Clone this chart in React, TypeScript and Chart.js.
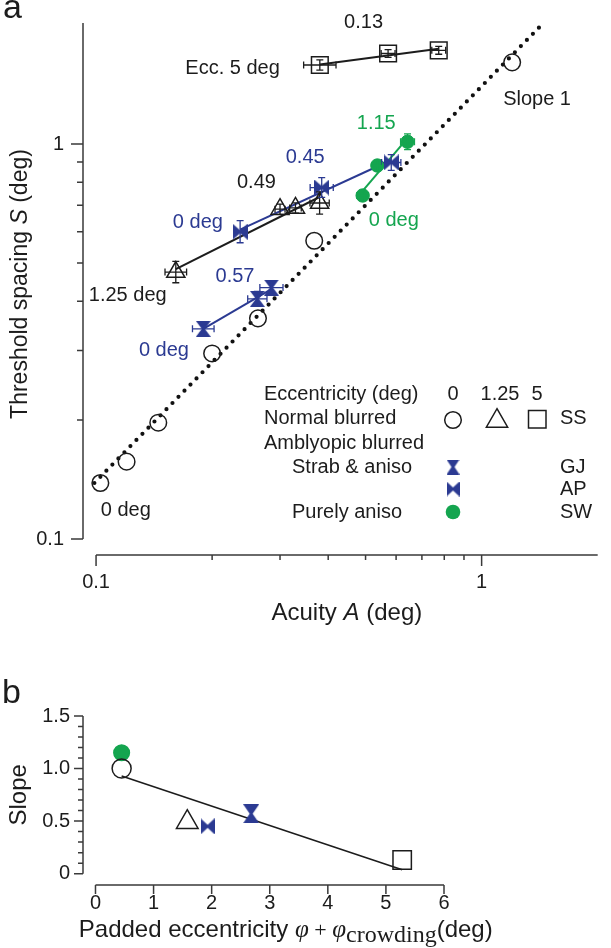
import React, { useEffect, useRef } from 'react';
import { Chart, registerables } from 'chart.js';
Chart.register(...registerables);

const FONT = "Arial, 'Liberation Sans', Helvetica, sans-serif";
const SERIF = "'Liberation Serif', 'Times New Roman', 'DejaVu Serif', serif";
const BLUE = '#2b3a92';
const GREEN = '#14a54f';
const BLACK = '#1c1c1c';
const AXIS = '#3a3a3a';

// ---------------- Panel a data (acuity A, threshold spacing S, deg) ----------------
const ecc0Acuity = [0.1026, 0.12, 0.145, 0.2, 0.263, 0.368, 1.2];
const ecc0Spacing = [0.1386, 0.157, 0.197, 0.295, 0.362, 0.569, 1.61];

const ecc125Acuity = [0.161, 0.3, 0.329, 0.38];
const ecc125Spacing = [0.474, 0.684, 0.689, 0.709];
const ecc125AcuityErr = [0.028, 0.013, 0.015, 0.025]; // log10 half-widths
const ecc125SpacingErr = [0.027, 0.013, 0.013, 0.028];

const ecc5Acuity = [0.3805, 0.572, 0.774];
const ecc5Spacing = [1.585, 1.695, 1.727];
const ecc5AcuityErr = [0.042, 0.018, 0.018];
const ecc5SpacingErr = [0.013, 0.01, 0.01];

const gjAcuity = [0.1897, 0.262, 0.285];
const gjSpacing = [0.3405, 0.4055, 0.433];
const gjAcuityErr = [0.028, 0.025, 0.03];
const gjSpacingErr = [0.01, 0.019, 0.013];

const apAcuity = [0.2364, 0.3848, 0.5829];
const apSpacing = [0.5998, 0.776, 0.898];
const apAcuityErr = [0.013, 0.03, 0.025];
const apSpacingErr = [0.028, 0.025, 0.02];

const swAcuity = [0.4914, 0.5365, 0.6424];
const swSpacing = [0.7408, 0.8823, 1.0135];
const swAcuityErr = [0.015, 0.013, 0.018];
const swSpacingErr = [0.013, 0.013, 0.02];

// fitted log-log slopes (also the printed labels)
const slopeEcc5 = 0.13;
const slopeEcc125 = 0.49;
const slopeGJ = 0.57;
const slopeAP = 0.45;
const slopeSW = 1.15;

// slope-1 reference line S = k * A
const slopeOneFactor = 1.4;
const slopeOneAcuityRange = [0.099, 1.43];

const acuityTicks = [0.1, 0.2, 0.3, 0.4, 0.5, 0.6, 0.7, 0.8, 0.9, 1];
const acuityTickLabels = ['0.1', '', '', '', '', '', '', '', '', '1'];
const spacingTicks = [0.1, 0.2, 0.3, 0.4, 0.5, 0.6, 0.7, 0.8, 0.9, 1];
const spacingTickLabels = ['0.1', '', '', '', '', '', '', '', '', '1'];

// ---------------- Panel b data ----------------
const slopeGroups = ['normal0', 'sw', 'normal125', 'ap', 'gj', 'normal5'];
const paddedEccentricity = [0.45, 0.45, 1.58, 1.93, 2.68, 5.28];
const slopeValues = [1.0, 1.15, 0.49, 0.45, 0.57, 0.13];

const eccTicks = [0, 1, 2, 3, 4, 5, 6];
const eccTickLabels = ['0', '1', '2', '3', '4', '5', '6'];
const slopeTicks = [0, 0.1, 0.2, 0.3, 0.4, 0.5, 0.6, 0.7, 0.8, 0.9, 1.0, 1.1, 1.2, 1.3, 1.4, 1.5];
const slopeTickLabels = ['0', '', '', '', '', '0.5', '', '', '', '', '1.0', '', '', '', '', '1.5'];

// ---------------- helpers ----------------
function makeHourglass(w: number, h: number, color: string) {
  const c = document.createElement('canvas');
  c.width = w; c.height = h;
  const g = c.getContext('2d')!;
  g.fillStyle = color;
  g.beginPath();
  g.moveTo(0, 0); g.lineTo(w, 0); g.lineTo(w / 2 + 1.5, h / 2); g.lineTo(w, h);
  g.lineTo(0, h); g.lineTo(w / 2 - 1.5, h / 2); g.closePath(); g.fill();
  return c;
}
function makeBowtie(w: number, h: number, color: string) {
  const c = document.createElement('canvas');
  c.width = w; c.height = h;
  const g = c.getContext('2d')!;
  g.fillStyle = color;
  g.beginPath();
  g.moveTo(0, 0); g.lineTo(w / 2, h / 2 - 1.5); g.lineTo(w, 0); g.lineTo(w, h);
  g.lineTo(w / 2, h / 2 + 1.5); g.lineTo(0, h); g.closePath(); g.fill();
  return c;
}

function pts(xs: number[], ys: number[]) {
  return xs.map((x, i) => ({ x, y: ys[i] }));
}

// line through the log-log centroid with the given slope, spanning the data range
function logFit(xs: number[], ys: number[], slope: number) {
  const lx = xs.map(Math.log10), ly = ys.map(Math.log10);
  const mx = lx.reduce((a, b) => a + b, 0) / lx.length;
  const my = ly.reduce((a, b) => a + b, 0) / ly.length;
  const x0 = Math.min(...xs), x1 = Math.max(...xs);
  const f = (x: number) => Math.pow(10, my + slope * (Math.log10(x) - mx));
  return [{ x: x0, y: f(x0) }, { x: x1, y: f(x1) }];
}

function linFit(xs: number[], ys: number[]) {
  const n = xs.length;
  const mx = xs.reduce((a, b) => a + b, 0) / n;
  const my = ys.reduce((a, b) => a + b, 0) / n;
  let sxy = 0, sxx = 0;
  xs.forEach((x, i) => { sxy += (x - mx) * (ys[i] - my); sxx += (x - mx) * (x - mx); });
  const b = sxy / sxx, a = my - b * mx;
  const x0 = Math.min(...xs), x1 = Math.max(...xs);
  return [{ x: x0, y: a + b * x0 }, { x: x1, y: a + b * x1 }];
}

function drawSegments(ctx: CanvasRenderingContext2D, segs: { text: string; font: string; dy?: number }[], x: number, y: number) {
  let total = 0;
  segs.forEach(s => { ctx.font = s.font; total += ctx.measureText(s.text).width; });
  let cx = x - total / 2;
  ctx.textAlign = 'left';
  segs.forEach(s => {
    ctx.font = s.font;
    ctx.fillText(s.text, cx, y + (s.dy || 0));
    cx += ctx.measureText(s.text).width;
  });
}

const offsetAxesPlugin = {
  id: 'offsetAxes',
  afterDraw(chart: any, _args: any, opts: any) {
    const { ctx, chartArea, scales } = chart;
    const x = scales.x, y = scales.y;
    ctx.save();
    ctx.strokeStyle = AXIS;
    ctx.lineWidth = 1.5;
    ctx.beginPath();
    const yx = chartArea.left;
    ctx.moveTo(yx, y.getPixelForValue(opts.yFrom));
    ctx.lineTo(yx, opts.yTo == null ? chartArea.top : y.getPixelForValue(opts.yTo));
    y.ticks.forEach((t: any) => {
      const p = y.getPixelForValue(t.value);
      ctx.moveTo(yx, p);
      ctx.lineTo(yx - (t.label ? opts.yMajor : opts.yMinor), p);
    });
    const xy = chartArea.bottom;
    ctx.moveTo(x.getPixelForValue(opts.xFrom), xy);
    ctx.lineTo(opts.xTo == null ? chartArea.right : x.getPixelForValue(opts.xTo), xy);
    x.ticks.forEach((t: any) => {
      const p = x.getPixelForValue(t.value);
      ctx.moveTo(p, xy);
      ctx.lineTo(p, xy + (t.label ? opts.xMajor : opts.xMinor));
    });
    ctx.stroke();
    ctx.restore();
  },
};

const errorBarPlugin = {
  id: 'errorBars',
  afterDatasetsDraw(chart: any) {
    const { ctx, scales } = chart;
    const x = scales.x, y = scales.y;
    ctx.save();
    chart.data.datasets.forEach((ds: any) => {
      if (!ds.errX) return;
      ctx.strokeStyle = ds.errColor;
      ctx.lineWidth = 1.3;
      ds.data.forEach((p: any, i: number) => {
        const px = x.getPixelForValue(p.x), py = y.getPixelForValue(p.y);
        const ex = ds.errX[i], ey = ds.errY[i];
        const xl = x.getPixelForValue(p.x / Math.pow(10, ex));
        const xr = x.getPixelForValue(p.x * Math.pow(10, ex));
        const yb = y.getPixelForValue(p.y / Math.pow(10, ey));
        const yt = y.getPixelForValue(p.y * Math.pow(10, ey));
        const c = 3.5;
        ctx.beginPath();
        ctx.moveTo(xl, py); ctx.lineTo(xr, py);
        ctx.moveTo(xl, py - c); ctx.lineTo(xl, py + c);
        ctx.moveTo(xr, py - c); ctx.lineTo(xr, py + c);
        ctx.moveTo(px, yb); ctx.lineTo(px, yt);
        ctx.moveTo(px - c, yb); ctx.lineTo(px + c, yb);
        ctx.moveTo(px - c, yt); ctx.lineTo(px + c, yt);
        ctx.stroke();
      });
    });
    ctx.restore();
  },
};

const annotationsA = [
  { text: '0.13', a: 0.494, s: 2.036, color: BLACK, align: 'center' },
  { text: 'Ecc. 5 deg', a: 0.2996, s: 1.557, color: BLACK, align: 'right' },
  { text: 'Slope 1', a: 1.137, s: 1.3, color: BLACK, align: 'left' },
  { text: '1.15', a: 0.533, s: 1.13, color: GREEN, align: 'center' },
  { text: '0.45', a: 0.3486, s: 0.922, color: BLUE, align: 'center' },
  { text: '0.49', a: 0.2606, s: 0.801, color: BLACK, align: 'center' },
  { text: '0 deg', a: 0.1837, s: 0.6347, color: BLUE, align: 'center' },
  { text: '0 deg', a: 0.592, s: 0.642, color: GREEN, align: 'center' },
  { text: '1.25 deg', a: 0.1208, s: 0.4147, color: BLACK, align: 'center' },
  { text: '0.57', a: 0.2293, s: 0.4614, color: BLUE, align: 'center' },
  { text: '0 deg', a: 0.15, s: 0.301, color: BLUE, align: 'center' },
  { text: '0 deg', a: 0.1194, s: 0.1184, color: BLACK, align: 'center' },
];

function triPath(ctx: CanvasRenderingContext2D, x: number, y: number, r: number) {
  ctx.beginPath();
  let rad = 0;
  ctx.moveTo(x + Math.sin(rad) * r, y - Math.cos(rad) * r);
  rad += (2 * Math.PI) / 3;
  ctx.lineTo(x + Math.sin(rad) * r, y - Math.cos(rad) * r);
  rad += (2 * Math.PI) / 3;
  ctx.lineTo(x + Math.sin(rad) * r, y - Math.cos(rad) * r);
  ctx.closePath();
}

function PanelA() {
  const ref = useRef<HTMLCanvasElement>(null);
  useEffect(() => {
    const hg = makeHourglass(15, 16, BLUE);
    const bt = makeBowtie(15, 16, BLUE);
    const lgHg = makeHourglass(13, 15, BLUE);
    const lgBt = makeBowtie(13, 15, BLUE);

    const textPlugin = {
      id: 'textA',
      afterDraw(chart: any) {
        const { ctx, scales } = chart;
        const x = scales.x, y = scales.y;
        ctx.save();
        ctx.textBaseline = 'middle';
        ctx.font = `20px ${FONT}`;
        annotationsA.forEach(a => {
          ctx.fillStyle = a.color;
          ctx.textAlign = a.align;
          ctx.fillText(a.text, x.getPixelForValue(a.a), y.getPixelForValue(a.s));
        });
        // legend
        ctx.fillStyle = BLACK;
        ctx.textAlign = 'left';
        ctx.fillText('Eccentricity (deg)', 264, 394);
        ctx.fillText('Normal blurred', 264, 418);
        ctx.fillText('Amblyopic blurred', 264, 443);
        ctx.fillText('Strab & aniso', 292, 467);
        ctx.fillText('Purely aniso', 292, 512);
        ctx.fillText('SS', 560, 418);
        ctx.fillText('GJ', 560, 467);
        ctx.fillText('AP', 560, 489);
        ctx.fillText('SW', 560, 512);
        ctx.textAlign = 'center';
        ctx.fillText('0', 453, 394);
        ctx.fillText('1.25', 500, 394);
        ctx.fillText('5', 537, 394);
        ctx.strokeStyle = BLACK;
        ctx.lineWidth = 1.5;
        ctx.beginPath(); ctx.arc(453, 420, 8.3, 0, Math.PI * 2); ctx.stroke();
        triPath(ctx, 497, 421, 12.3); ctx.stroke();
        ctx.strokeRect(528.5, 410.5, 17.5, 17.5);
        ctx.drawImage(lgHg, 453 - 6.5, 467 - 7.5);
        ctx.drawImage(lgBt, 453 - 6.5, 489 - 7.5);
        ctx.fillStyle = GREEN;
        ctx.beginPath(); ctx.arc(453, 512, 7.3, 0, Math.PI * 2); ctx.fill();

        // axis titles
        ctx.fillStyle = BLACK;
        ctx.textBaseline = 'middle';
        ctx.save();
        ctx.translate(21, (chart.chartArea.top + y.getPixelForValue(0.1)) / 2 + 3);
        ctx.rotate(-Math.PI / 2);
        drawSegments(ctx, [
          { text: 'Threshold spacing ', font: `23px ${FONT}` },
          { text: 'S', font: `italic 23px ${FONT}` },
          { text: ' (deg)', font: `23px ${FONT}` },
        ], 0, 0);
        ctx.restore();
        drawSegments(ctx, [
          { text: 'Acuity ', font: `24px ${FONT}` },
          { text: 'A', font: `italic 24px ${FONT}` },
          { text: ' (deg)', font: `24px ${FONT}` },
        ], (x.getPixelForValue(0.1) + chart.chartArea.right) / 2, 613);
        ctx.font = `34px ${FONT}`;
        ctx.textAlign = 'left';
        ctx.textBaseline = 'alphabetic';
        ctx.fillText('a', 3, 18);
        ctx.restore();
      },
    };

    const lineDs = (data: any, color: string, extra: any = {}) => ({
      data, showLine: true, borderColor: color, borderWidth: 2, pointRadius: 0, fill: false, order: 10, ...extra,
    });

    const chart = new Chart(ref.current!, {
      type: 'scatter',
      data: {
        datasets: [
          lineDs([
            { x: slopeOneAcuityRange[0], y: slopeOneFactor * slopeOneAcuityRange[0] },
            { x: slopeOneAcuityRange[1], y: slopeOneFactor * slopeOneAcuityRange[1] },
          ], '#111', { borderWidth: 4.2, borderDash: [0, 8.6], borderCapStyle: 'round', order: 20 }),
          lineDs(logFit(ecc5Acuity, ecc5Spacing, slopeEcc5), BLACK),
          lineDs(logFit(ecc125Acuity, ecc125Spacing, slopeEcc125), BLACK),
          lineDs(logFit(gjAcuity, gjSpacing, slopeGJ), BLUE),
          lineDs(logFit(apAcuity, apSpacing, slopeAP), BLUE),
          lineDs(logFit(swAcuity, swSpacing, slopeSW), GREEN),
          {
            data: pts(ecc0Acuity, ecc0Spacing), pointStyle: 'circle', pointRadius: 8.3,
            borderColor: BLACK, backgroundColor: 'rgba(0,0,0,0)', pointBorderWidth: 1.5, order: 0,
          },
          {
            data: pts(ecc125Acuity, ecc125Spacing), pointStyle: 'triangle', pointRadius: 10.5,
            borderColor: BLACK, backgroundColor: 'rgba(0,0,0,0)', pointBorderWidth: 1.5, order: 0,
            errX: ecc125AcuityErr, errY: ecc125SpacingErr, errColor: BLACK,
          },
          {
            data: pts(ecc5Acuity, ecc5Spacing), pointStyle: 'rect', pointRadius: 11.8,
            borderColor: BLACK, backgroundColor: 'rgba(0,0,0,0)', pointBorderWidth: 1.5, order: 0,
            errX: ecc5AcuityErr, errY: ecc5SpacingErr, errColor: BLACK,
          },
          {
            data: pts(gjAcuity, gjSpacing), pointStyle: hg, pointRadius: 8, order: 0,
            errX: gjAcuityErr, errY: gjSpacingErr, errColor: BLUE,
          },
          {
            data: pts(apAcuity, apSpacing), pointStyle: bt, pointRadius: 8, order: 0,
            errX: apAcuityErr, errY: apSpacingErr, errColor: BLUE,
          },
          {
            data: pts(swAcuity, swSpacing), pointStyle: 'circle', pointRadius: 6.7,
            borderColor: GREEN, backgroundColor: GREEN, pointBorderWidth: 1, order: 0,
            errX: swAcuityErr, errY: swSpacingErr, errColor: GREEN,
          },
        ] as any,
      },
      options: {
        responsive: false,
        animation: false,
        events: [],
        layout: { padding: { top: 23, right: 0, left: 0, bottom: 0 } },
        plugins: {
          legend: { display: false },
          tooltip: { enabled: false },
          offsetAxes: { yFrom: 0.1, yTo: null, yMajor: 12, yMinor: 6, xFrom: 0.1, xTo: null, xMajor: 11, xMinor: 5 },
        } as any,
        scales: {
          x: {
            type: 'logarithmic', min: 0.0925, max: 2.0, bounds: 'data',
            grid: { display: false, drawTicks: false }, border: { display: false },
            afterBuildTicks: (s: any) => { s.ticks = acuityTicks.map(v => ({ value: v })); },
            afterFit: (s: any) => { s.height = 85; s.paddingLeft = 0; s.paddingRight = 0; },
            ticks: {
              autoSkip: false, maxRotation: 0, padding: 15, color: BLACK,
              font: { family: FONT, size: 20 },
              callback: (_v: any, i: number) => acuityTickLabels[i],
            },
          },
          y: {
            type: 'logarithmic', min: 0.0911, max: 2.025, bounds: 'data',
            grid: { display: false, drawTicks: false }, border: { display: false },
            afterBuildTicks: (s: any) => { s.ticks = spacingTicks.map(v => ({ value: v })); },
            afterFit: (s: any) => { s.width = 83; s.paddingTop = 0; s.paddingBottom = 0; },
            ticks: {
              autoSkip: false, padding: 19, color: BLACK,
              font: { family: FONT, size: 20 },
              callback: (_v: any, i: number) => spacingTickLabels[i],
            },
          },
        } as any,
      },
      plugins: [offsetAxesPlugin, errorBarPlugin, textPlugin],
    });
    return () => chart.destroy();
  }, []);
  return <canvas ref={ref} width={611} height={640} style={{ position: 'absolute', left: 0, top: 0 }} />;
}

function PanelB() {
  const ref = useRef<HTMLCanvasElement>(null);
  useEffect(() => {
    const hg = makeHourglass(16, 19, BLUE);
    const bt = makeBowtie(14, 16, BLUE);
    const styleFor: Record<string, any> = {
      normal0: { pointStyle: 'circle', pointRadius: 9.5, borderColor: BLACK, backgroundColor: 'rgba(0,0,0,0)' },
      sw: { pointStyle: 'circle', pointRadius: 7.8, borderColor: GREEN, backgroundColor: GREEN },
      normal125: { pointStyle: 'triangle', pointRadius: 12.5, borderColor: BLACK, backgroundColor: 'rgba(0,0,0,0)' },
      ap: { pointStyle: bt, pointRadius: 8 },
      gj: { pointStyle: hg, pointRadius: 9 },
      normal5: { pointStyle: 'rect', pointRadius: 13, borderColor: BLACK, backgroundColor: 'rgba(0,0,0,0)' },
    };
    const pointSets = slopeGroups.map((g, i) => ({
      data: [{ x: paddedEccentricity[i], y: slopeValues[i] }],
      pointBorderWidth: 1.5,
      order: 0,
      ...styleFor[g],
    }));

    const textPlugin = {
      id: 'textB',
      afterDraw(chart: any) {
        const { ctx, scales } = chart;
        const x = scales.x, y = scales.y;
        ctx.save();
        ctx.fillStyle = BLACK;
        ctx.textBaseline = 'middle';
        ctx.save();
        ctx.translate(19, (y.getPixelForValue(0) + y.getPixelForValue(1.5)) / 2);
        ctx.rotate(-Math.PI / 2);
        drawSegments(ctx, [{ text: 'Slope', font: `24px ${FONT}` }], 0, 0);
        ctx.restore();
        ctx.textBaseline = 'alphabetic';
        drawSegments(ctx, [
          { text: 'Padded eccentricity ', font: `24px ${FONT}` },
          { text: '\u03C6', font: `italic 25px ${SERIF}` },
          { text: ' + ', font: `22px ${SERIF}` },
          { text: '\u03C6', font: `italic 25px ${SERIF}` },
          { text: 'crowding', font: `24px ${SERIF}`, dy: 5 },
          { text: '(deg)', font: `24px ${FONT}` },
        ], (x.getPixelForValue(0) + x.getPixelForValue(6)) / 2 + 16, 297);
        ctx.font = `34px ${FONT}`;
        ctx.textAlign = 'left';
        ctx.fillText('b', 2, 63);
        ctx.restore();
      },
    };

    const chart = new Chart(ref.current!, {
      type: 'scatter',
      data: {
        datasets: [
          ...pointSets,
          {
            data: linFit(paddedEccentricity, slopeValues), showLine: true, borderColor: BLACK,
            borderWidth: 1.6, pointRadius: 0, order: 10,
          },
        ] as any,
      },
      options: {
        responsive: false,
        animation: false,
        events: [],
        layout: { padding: { top: 76, right: 167, left: 0, bottom: 0 } },
        plugins: {
          legend: { display: false },
          tooltip: { enabled: false },
          offsetAxes: { yFrom: 0, yTo: 1.5, yMajor: 9, yMinor: 5, xFrom: 0, xTo: 6, xMajor: 9, xMinor: 9 },
        } as any,
        scales: {
          x: {
            type: 'linear', min: -0.215, max: 6, bounds: 'data',
            grid: { display: false, drawTicks: false }, border: { display: false },
            afterBuildTicks: (s: any) => { s.ticks = eccTicks.map(v => ({ value: v })); },
            afterFit: (s: any) => { s.height = 63; s.paddingLeft = 0; s.paddingRight = 0; },
            ticks: {
              autoSkip: false, maxRotation: 0, padding: 6, color: BLACK,
              font: { family: FONT, size: 20 },
              callback: (_v: any, i: number) => eccTickLabels[i],
            },
          },
          y: {
            type: 'linear', min: -0.108, max: 1.5, bounds: 'data',
            grid: { display: false, drawTicks: false }, border: { display: false },
            afterBuildTicks: (s: any) => { s.ticks = slopeTicks.map(v => ({ value: v })); },
            afterFit: (s: any) => { s.width = 83; s.paddingTop = 0; s.paddingBottom = 0; },
            ticks: {
              autoSkip: false, padding: 13, color: BLACK,
              font: { family: FONT, size: 20 },
              callback: (_v: any, i: number) => slopeTickLabels[i],
            },
          },
        } as any,
      },
      plugins: [offsetAxesPlugin, textPlugin],
    });
    return () => chart.destroy();
  }, []);
  return <canvas ref={ref} width={611} height={308} style={{ position: 'absolute', left: 0, top: 640 }} />;
}

export default function App() {
  return (
    <div style={{ position: 'absolute', left: 0, top: 0, width: 611, height: 948, background: '#fff', overflow: 'hidden' }}>
      <PanelA />
      <PanelB />
    </div>
  );
}
